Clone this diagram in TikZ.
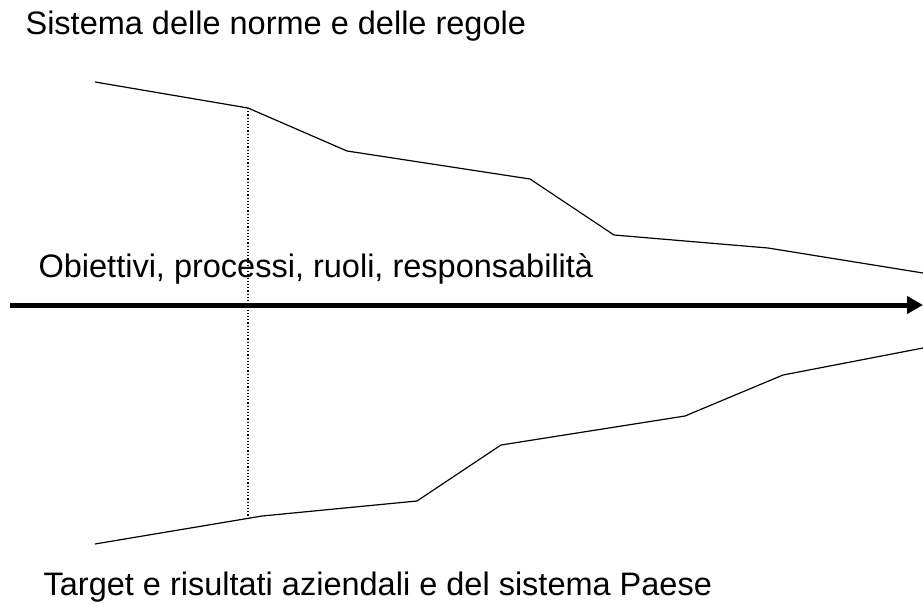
\documentclass[tikz,border=0pt]{standalone}
\usepackage{fontspec}
\setmainfont{Liberation Sans}
\usepackage{tikz}
\usetikzlibrary{arrows.meta,calc,positioning}

\begin{document}
\begin{tikzpicture}[x=1pt,y=-1pt,line width=1.2pt,
    label/.style={anchor=base west,inner sep=0pt,font=\fontsize{32.5}{36}\selectfont},
    mainarrow/.style={line width=5pt,-{Triangle[length=16pt,width=17pt]}}]

    \useasboundingbox (0,0) rectangle (923,607);

% the upper border

    \draw (95,82) -- (248,108) coordinate (u1) -- (347,151) -- (530,179)
    -- (614,235) -- (768,248) -- (923,273);

% the lower border

    \draw (95,544) -- (262,516) -- (417,501) -- (501,445)
    -- (685,416) -- (783,375) -- (923,348);
    \coordinate (l1) at (248,518);

    \draw[dotted] (u1) -- (l1);

% the main axis

    \coordinate (start) at (10,305);
    \coordinate (end) at (923,305);
    \draw[mainarrow] (start) -- (end);

% the texts

    \node[label] (norme) at (25,35) {Sistema delle norme e delle regole};
    \node[label] (obiettivi) at (38,277) {Obiettivi, processi, ruoli, responsabilità};
    \node[label] (target) at (43,595) {Target e risultati aziendali e del sistema Paese};

\end{tikzpicture}
\end{document}
